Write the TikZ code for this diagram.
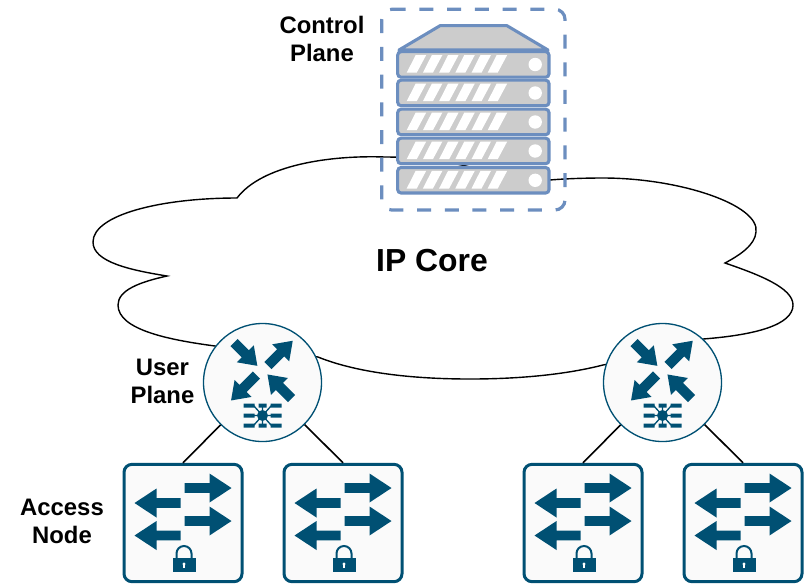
\documentclass[tikz,border=0pt]{standalone}
\usepackage{fontspec}
\setmainfont{Liberation Sans}
\definecolor{teal}{HTML}{005073}
\definecolor{srv}{HTML}{6C8EBF}
\definecolor{gr}{HTML}{CCCCCC}
\definecolor{pale}{HTML}{FAFAFA}
\tikzset{
 x=0.75pt,y=-0.75pt,
 lab/.style={font=\bfseries\fontsize{17.9}{21}\selectfont,align=center,text=black,inner sep=0pt},
 link/.style={draw=black,line width=1.2pt},
 unitbox/.style={draw=srv,fill=gr,line width=2.3pt,rounded corners=2.5pt},
 slash/.style={fill=white,draw=none},
 hub/.style={circle,draw=teal,fill=pale,line width=1pt,minimum size=88.5pt,inner sep=0pt},
 anode/.style={draw=teal,fill=pale,line width=2.25pt,rounded corners=6pt,inner sep=0pt,minimum width=88.5pt,minimum height=88pt}
}
\newcommand{\darrow}[4]{% x y length angle
 \fill[teal,shift={(#1,#2)},rotate=#4] (0,-5) -- (#3-17,-5) -- (#3-17,-12) -- (#3,0) -- (#3-17,12) -- (#3-17,5) -- (0,5) -- cycle;}
\newcommand{\hubicon}[1]{%
 \begin{scope}[shift={(#1)}]
  \darrow{-28.5}{-40}{33}{-45}
  \darrow{5.5}{-17}{35}{45}
  \darrow{-6}{-7.5}{36}{225}
  \darrow{29}{16}{34}{135}
  \fill[teal] (0,33) circle (5.5);
  \draw[teal,line width=1pt] (-9,23) -- (0,33) -- (9,23) (-9,43) -- (0,33) -- (9,43) (-10,33) -- (10,33) (0,23) -- (0,43);
  \fill[teal] (-19,21) rectangle (-8,25) (8,21) rectangle (19,25)
              (-19,31) rectangle (-8,35) (8,31) rectangle (19,35)
              (-19,41) rectangle (-8,45) (8,41) rectangle (19,45)
              (-4,21) rectangle (4,25) (-4,41) rectangle (4,45);
 \end{scope}}
\newcommand{\accessicon}[1]{%
 \begin{scope}[shift={(#1)}]
  \foreach \yy in {-35,-2}{
   \fill[teal] (1.5,\yy-4.8) -- (26.5,\yy-4.8) -- (26.5,\yy-14.5) -- (48.5,\yy) -- (26.5,\yy+14.5) -- (26.5,\yy+4.8) -- (1.5,\yy+4.8) -- cycle;
  }
  \foreach \yy in {-20,12.5}{
   \fill[teal] (-2.5,\yy-4.8) -- (-26.5,\yy-4.8) -- (-26.5,\yy-14.5) -- (-48.5,\yy) -- (-26.5,\yy+14.5) -- (-26.5,\yy+4.8) -- (-2.5,\yy+4.8) -- cycle;
  }
  \fill[teal] (-10.5,35) rectangle (12.5,49);
  \draw[teal,line width=1.5pt] (-6.5,35) -- (-6.5,30.5) arc[start angle=180,end angle=360,radius=7.5] -- (8.5,35);
  \fill[white] (1,41) circle (1.6);
  \fill[white] (0.3,41) rectangle (1.7,45);
 \end{scope}}
\newcommand{\unit}[1]{%
 \begin{scope}[shift={(397.7,#1)}]
  \draw[unitbox] (0,0) rectangle (151.3,25.5);
  \foreach \k in {0,...,5}{
   \fill[slash] (9+16.2*\k,21) -- (18+16.2*\k,3.3) -- (28.5+16.2*\k,3.3) -- (19+16.2*\k,21) -- cycle;
  }
  \fill[white] (137.5,12.8) circle (6.7);
 \end{scope}}
\begin{document}
\begin{tikzpicture}
\useasboundingbox (0,0) rectangle (805,583);
% cloud
\draw[black,line width=1.05pt,fill=white,line join=miter] (237,198)
 .. controls (262,165) and (330,155) .. (385,157)
 .. controls (420,157) and (450,162) .. (470,167)
 .. controls (485,171) and (498,178) .. (505,186)
 .. controls (535,180) and (570,178) .. (603,178)
 .. controls (680,178) and (760,205) .. (756,232)
 .. controls (755,245) and (740,255) .. (725,263)
 .. controls (760,275) and (793,288) .. (793,305)
 .. controls (793,325) and (755,335) .. (703,339)
 .. controls (670,345) and (640,358) .. (603,365)
 .. controls (560,376) and (510,379) .. (470,379)
 .. controls (400,379) and (350,370) .. (318,357)
 .. controls (285,352) and (250,350) .. (215,346)
 .. controls (170,340) and (118,330) .. (118,305)
 .. controls (118,290) and (140,282) .. (167,276)
 .. controls (130,270) and (93,262) .. (93,242)
 .. controls (93,215) and (160,198) .. (237,198) -- cycle;
\node[font=\bfseries\fontsize{23.9}{27}\selectfont,inner sep=0pt] (core) at (432,260.5) {IP Core};
% server group
\draw[srv,line width=2.4pt,dash pattern=on 10.5pt off 10.3pt,rounded corners=7.5pt] (391.7,9.3) -- (565,9.3) -- (565,210) -- (381.7,210) -- (381.7,9.3) -- (391.7,9.3);
\draw[srv,fill=gr,line width=2.3pt,line join=round] (399,50) -- (440,25.7) -- (507,25.7) -- (548,50) -- cycle;
\unit{51.7}\unit{80.2}\unit{109.2}\unit{138.2}\unit{167.5}
\node[lab] (cp) at (322,39) {Control\\Plane};
% hubs
\node[hub] (h1) at (262.5,382.5) {};
\node[hub] (h2) at (662.5,382.5) {};
\hubicon{262.5,382.5}
\hubicon{662.5,382.5}
\node[lab] (up) at (162.5,381) {User\\Plane};
% access nodes
\node[anode] (a1) at (183,523) {};
\node[anode] (a2) at (343,523) {};
\node[anode] (a3) at (583,523) {};
\node[anode] (a4) at (743,523) {};
\accessicon{183,523}\accessicon{343,523}\accessicon{583,523}\accessicon{743,523}
\node[lab] (an) at (62,521) {Access\\Node};
\draw[link] (h1) -- (a1.north);
\draw[link] (h1) -- (a2.north);
\draw[link] (h2) -- (a3.north);
\draw[link] (h2) -- (a4.north);
\end{tikzpicture}
\end{document}
